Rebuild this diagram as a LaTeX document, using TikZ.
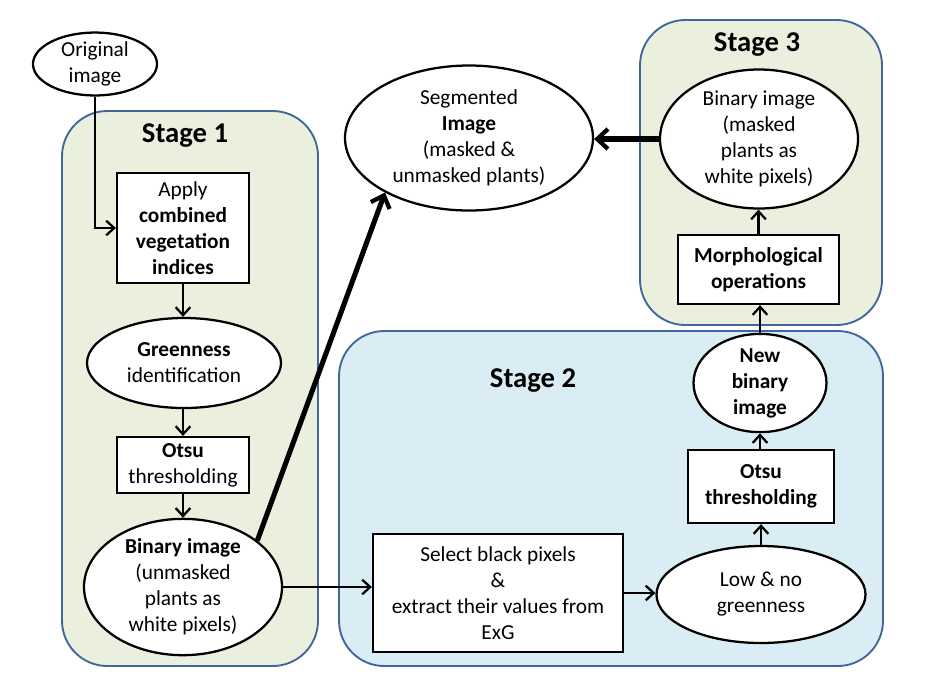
\documentclass[tikz,border=0pt]{standalone}
\usepackage{fontspec}
\setmainfont{Carlito}
\usetikzlibrary{arrows.meta,shapes.geometric}
\definecolor{olivefill}{HTML}{EBEFDE}
\definecolor{aquafill}{HTML}{DBEDF4}
\definecolor{stageline}{HTML}{41679A}
\tikzset{
  stagebox/.style={draw=stageline,line width=1.4pt,rounded corners=34pt},
  stagelabel/.style={font=\fontsize{21.5}{24}\selectfont\bfseries},
  base/.style={draw=black,fill=white,line width=1.7pt,align=center,inner sep=0pt,
    font=\fontsize{16}{19.5}\selectfont},
  oval/.style={base,ellipse},
  boxnode/.style={base,rectangle},
  arr/.style={line width=1.7pt,-{Straight Barb[length=6pt,width=11pt,line width=1.7pt]}},
  bigarr/.style={line width=3.8pt,-{Straight Barb[length=8pt,width=15pt,line width=3.2pt]}}
}
\begin{document}
\begin{tikzpicture}[x=0.75pt,y=-0.75pt]
\useasboundingbox (0,0) rectangle (937,694);
% stage backgrounds
\draw[stagebox,fill=olivefill] (62,111) rectangle (318,666);
\draw[stagebox,fill=aquafill] (339,331) rectangle (883,666);
\draw[stagebox,fill=olivefill] (640,20) rectangle (882,325);
\node[stagelabel] (s1) at (185,136) {Stage 1};
\node[stagelabel] (s2) at (533,381) {Stage 2};
\node[stagelabel] (s3) at (757,45) {Stage 3};
% nodes
\node[oval,minimum width=93pt,minimum height=46.5pt] (orig) at (95,64) {Original\\image};
\node[boxnode,minimum width=99pt,minimum height=82.5pt] (apply) at (183,228)
  {Apply\\\textbf{combined}\\\textbf{vegetation}\\\textbf{indices}};
\node[oval,minimum width=145.5pt,minimum height=67.5pt] (green) at (184,363)
  {\textbf{Greenness}\\identification};
\node[boxnode,minimum width=99pt,minimum height=42pt] (otsuA) at (183,465)
  {\textbf{Otsu}\\thresholding};
\node[oval,minimum width=148.5pt,minimum height=96pt] (binA) at (183,587)
  {\textbf{Binary image}\\(unmasked\\plants as\\white pixels)};
\node[oval,minimum width=186pt,minimum height=108.75pt] (seg) at (469,138)
  {Segmented\\\textbf{Image}\\(masked \&\\unmasked plants)};
\node[oval,minimum width=148.5pt,minimum height=104.25pt] (binC) at (759,139)
  {Binary image\\(masked\\plants as\\white pixels)};
\node[boxnode,minimum width=120.75pt,minimum height=51.75pt] (morph) at (758.5,269.5)
  {\textbf{Morphological}\\\textbf{operations}};
\node[oval,minimum width=99.75pt,minimum height=68.25pt] (newbin) at (760,383)
  {\textbf{New}\\\textbf{binary}\\\textbf{image}};
\node[boxnode,minimum width=109.5pt,minimum height=54.75pt] (otsuB) at (761,486.5)
  {\textbf{Otsu}\\\textbf{thresholding}};
\node[oval,minimum width=156.75pt,minimum height=72.75pt] (low) at (761,594.5)
  {Low \& no\\greenness};
\node[boxnode,minimum width=187.5pt,minimum height=88.5pt] (select) at (498,593)
  {Select black pixels\\\&\\extract their values from\\ExG};
% connectors
\draw[arr] (orig.south) |- (apply.west);
\draw[arr] (apply.south) -- (apply.south |- green.north);
\draw[arr] (green.south -| otsuA.north) -- (otsuA.north);
\draw[arr] (otsuA.south) -- (otsuA.south |- binA.north);
\draw[arr] (binA.east) -- (binA.east -| select.west);
\draw[arr] (select.east) -- (select.east -| low.west);
\draw[arr] (low.north -| otsuB.south) -- (otsuB.south);
\draw[arr] (otsuB.north -| newbin.south) -- (newbin.south);
\draw[arr] (newbin.north) -- (newbin.north |- morph.south);
\draw[arr] (morph.north) -- (morph.north |- binC.south);
\draw[bigarr] (binC.west) -- (binC.west -| seg.east);
\draw[bigarr] (binA.32) -- (seg.213);
\end{tikzpicture}
\end{document}
